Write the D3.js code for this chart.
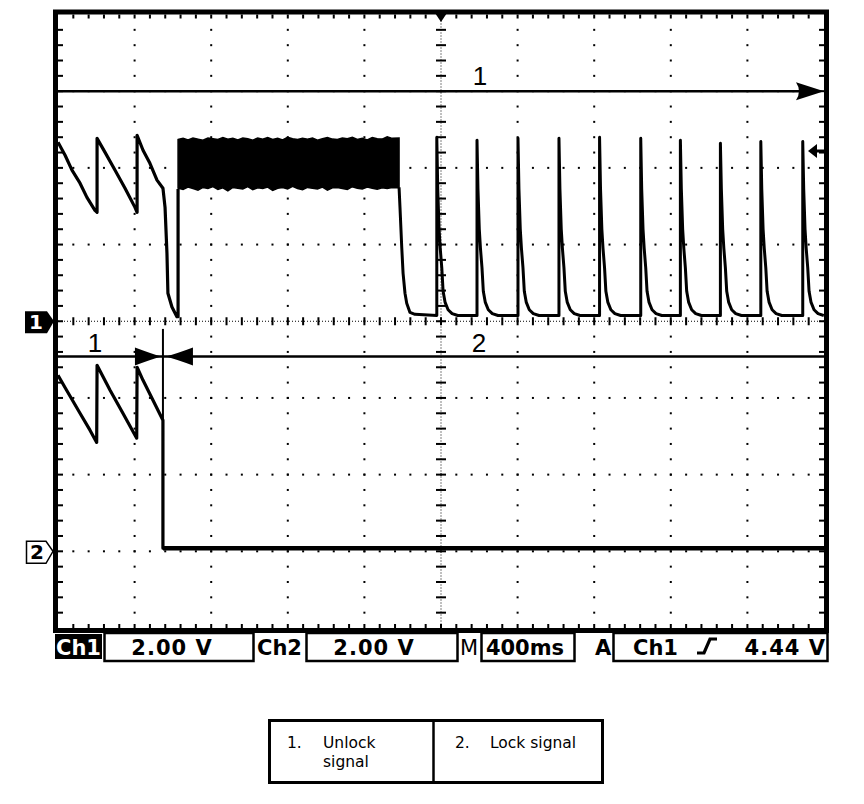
<!DOCTYPE html>
<html>
<head>
<meta charset="utf-8">
<script src="https://cdn.jsdelivr.net/npm/d3@7/dist/d3.min.js"></script>
<style>
body { margin: 0; background: #fff; }
svg { display: block; }
</style>
</head>
<body>
<svg id="scope" width="864" height="804"></svg>
<script>
// Ch1 sawtooth before the burst (time ms, volts)
var ch1Teeth = [[-2000,4.67],[-1963,4.33],[-1927,3.94],[-1885,3.60],[-1849,3.23],[-1807,2.89],[-1796,2.84],
                [-1796,4.77],[-1755,4.41],[-1702,3.94],[-1650,3.47],[-1598,2.97],[-1587,2.84],
                [-1587,4.85],[-1556,4.46],[-1520,4.12],[-1483,3.68],[-1452,3.47],[-1441,2.97],[-1431,1.77],
                [-1426,0.73],[-1405,0.37],[-1379,0.12],[-1373,0.12],[-1373,3.45]];

// noisy burst: envelope
var noiseTime = [-1373,-1347,-1321,-1295,-1269,-1243,-1217,-1191,-1165,-1139,-1113,-1087,-1061,-1035,-1009,
                 -983,-957,-931,-905,-879,-853,-827,-801,-775,-749,-723,-697,-671,-645,-619,
                 -593,-567,-541,-515,-489,-463,-437,-411,-385,-359,-333,-307,-281,-255,-219];
var noiseTop = [4.74,4.77,4.73,4.78,4.75,4.72,4.78,4.76,4.74,4.79,4.75,4.77,4.73,4.78,4.76,
                4.72,4.78,4.75,4.79,4.74,4.77,4.73,4.80,4.76,4.74,4.77,4.75,4.78,4.72,4.76,
                4.79,4.75,4.74,4.78,4.76,4.80,4.74,4.77,4.73,4.79,4.76,4.75,4.81,4.77,4.78];
var noiseBottom = [3.47,3.44,3.50,3.46,3.42,3.49,3.46,3.51,3.44,3.48,3.40,3.49,3.47,3.45,3.51,
                   3.43,3.48,3.46,3.50,3.41,3.47,3.49,3.45,3.52,3.46,3.43,3.49,3.47,3.45,3.50,
                   3.42,3.48,3.49,3.46,3.44,3.51,3.47,3.45,3.50,3.47,3.44,3.48,3.46,3.49,3.48];

// fall after the burst
var ch1Fall = [[-219,3.49],[-214,2.95],[-205,1.93],[-198,1.25],[-188,0.73],[-179,0.47],[-162,0.23],[-136,0.18]];

// lock pulses
var pulseTimes = [-22,188,402,616,828,1043,1250,1459,1670,1889];
var pulsePeaks = [4.80,4.72,4.77,4.77,4.80,4.77,4.72,4.64,4.69,4.69];
var pulseDecay = [[5,3.45],[12,2.4],[18,1.9],[26,1.4],[33,0.78],[43,0.5],[59,0.3],[80,0.2],[110,0.15]];
var ch1Base = 0.15;

// Ch2 trace
var ch2Trace = [[-2000,4.59],[-1955,4.20],[-1885,3.60],[-1833,3.16],[-1798,2.84],
                [-1796,4.85],[-1728,4.20],[-1661,3.60],[-1589,2.95],
                [-1587,4.80],[-1556,4.46],[-1504,3.94],[-1452,3.42],[-1452,0.08],[2000,0.08]];

// scope settings
var ch1Pos = 0, ch2Pos = -3, voltsPerDiv = 2;
var trigLevel = 4.44;
var lockEdge = -1452;
var statusCh1 = "2.00 V", statusCh2 = "2.00 V", statusTime = "400ms", trigSource = "Ch1", trigText = "4.44 V";
var legendItems = [["1.", ["Unlock", "signal"]], ["2.", ["Lock signal"]]];

var X0 = 58, X1 = 824, Y0 = 14.5, Y1 = 628;
var svg = d3.select("#scope");
var x = d3.scaleLinear().domain([-2000, 2000]).range([X0, X1]);
var yDiv = d3.scaleLinear().domain([-4, 4]).range([Y1, Y0]);
var y1 = v => yDiv(v / voltsPerDiv + ch1Pos);
var y2 = v => yDiv(v / voltsPerDiv + ch2Pos);
var dx = (X1 - X0) / 50, dy = (Y1 - Y0) / 40;

svg.append("defs").append("clipPath").attr("id", "plot")
  .append("rect").attr("x", X0).attr("y", Y0).attr("width", X1 - X0).attr("height", Y1 - Y0);

// grid dots
var grid = svg.append("g").attr("fill", "#000");
[1,2,3,4,6,7,8,9].forEach(i => {
  var gx = X0 + i * 5 * dx;
  d3.range(1, 40).forEach(j => {
    grid.append("rect").attr("x", gx - 1).attr("y", Y0 + j * dy - 1).attr("width", 2).attr("height", 2);
  });
});
[1,2,3,5,6,7].forEach(k => {
  var gy = Y0 + k * 5 * dy;
  d3.range(1, 50).forEach(j => {
    grid.append("rect").attr("x", X0 + j * dx - 1).attr("y", gy - 1).attr("width", 2).attr("height", 2);
  });
});
// border ticks
d3.range(1, 50).forEach(j => {
  var tx = X0 + j * dx;
  grid.append("rect").attr("x", tx - 1).attr("y", Y0).attr("width", 2).attr("height", 4);
  grid.append("rect").attr("x", tx - 1).attr("y", Y1 - 4).attr("width", 2).attr("height", 4);
});
d3.range(1, 40).forEach(j => {
  var ty = Y0 + j * dy;
  grid.append("rect").attr("x", X0).attr("y", ty - 1).attr("width", 5).attr("height", 2);
  grid.append("rect").attr("x", X1 - 5).attr("y", ty - 1).attr("width", 5).attr("height", 2);
});
// centre lines
var cx = x(0), cy = yDiv(0);
svg.append("line").attr("x1", X0).attr("x2", X1).attr("y1", cy).attr("y2", cy)
  .attr("stroke", "#000").attr("stroke-width", 1).attr("stroke-dasharray", "1,2");
svg.append("line").attr("x1", cx).attr("x2", cx).attr("y1", Y0).attr("y2", Y1)
  .attr("stroke", "#000").attr("stroke-width", 1).attr("stroke-dasharray", "1,2");
d3.range(1, 50).forEach(j => {
  grid.append("rect").attr("x", X0 + j * dx - 1).attr("y", cy - 4).attr("width", 2).attr("height", 8);
});
d3.range(1, 40).forEach(j => {
  grid.append("rect").attr("x", cx - 5).attr("y", Y0 + j * dy - 1).attr("width", 10).attr("height", 2);
});

// traces
var traces = svg.append("g").attr("clip-path", "url(#plot)");
var line = d3.line().x(d => x(d[0]));

var ch1Tail = ch1Fall.slice();
pulseTimes.forEach((t, i) => {
  ch1Tail.push([t, ch1Base], [t, pulsePeaks[i]]);
  pulseDecay.forEach(p => ch1Tail.push([t + p[0], p[1]]));
});

traces.append("path").attr("d", line.y(d => y1(d[1]))(ch1Teeth))
  .attr("fill", "none").attr("stroke", "#000").attr("stroke-width", 3.2).attr("stroke-linejoin", "round");
traces.append("path").attr("d", line.y(d => y1(d[1]))(ch1Tail))
  .attr("fill", "none").attr("stroke", "#000").attr("stroke-width", 3).attr("stroke-linejoin", "round");
traces.append("path")
  .attr("d", d3.area().x((d, i) => x(noiseTime[i])).y0((d, i) => y1(noiseBottom[i])).y1((d, i) => y1(noiseTop[i]))(noiseTime))
  .attr("fill", "#000").attr("stroke", "#000").attr("stroke-width", 1.5);
traces.append("path").attr("d", line.y(d => y2(d[1]))(ch2Trace))
  .attr("fill", "none").attr("stroke", "#000").attr("stroke-width", 3.2).attr("stroke-linejoin", "round");
// thick noisy flat part of ch2
traces.append("line").attr("x1", x(lockEdge)).attr("x2", X1)
  .attr("y1", y2(0.08)).attr("y2", y2(0.08)).attr("stroke", "#000").attr("stroke-width", 4.5);

// annotation arrows
var ann = svg.append("g");
var ya = yDiv(3), yb = yDiv(-0.46), ex = x(lockEdge);
ann.append("line").attr("x1", X0).attr("x2", X1 - 20).attr("y1", ya).attr("y2", ya)
  .attr("stroke", "#000").attr("stroke-width", 2.5);
ann.append("path").attr("d", `M${X1},${ya} L${X1 - 28},${ya - 9} Q${X1 - 22},${ya} ${X1 - 28},${ya + 9} Z`).attr("fill", "#000");
ann.append("line").attr("x1", X0).attr("x2", X1).attr("y1", yb).attr("y2", yb)
  .attr("stroke", "#000").attr("stroke-width", 2.5);
ann.append("path").attr("d", `M${ex - 28},${yb - 9} Q${ex - 12},${yb - 3} ${ex - 2},${yb} Q${ex - 12},${yb + 3} ${ex - 28},${yb + 9} Z`).attr("fill", "#000");
ann.append("path").attr("d", `M${ex + 30},${yb - 9} Q${ex + 14},${yb - 3} ${ex + 3},${yb} Q${ex + 14},${yb + 3} ${ex + 30},${yb + 9} Z`).attr("fill", "#000");
ann.append("line").attr("x1", ex).attr("x2", ex).attr("y1", yDiv(-0.1)).attr("y2", y2(0.08))
  .attr("stroke", "#000").attr("stroke-width", 2);
var annFont = "'Liberation Sans', Arial, sans-serif";
ann.append("text").attr("x", 480).attr("y", 85).text("1");
ann.append("text").attr("x", 95).attr("y", 352).text("1");
ann.append("text").attr("x", 479).attr("y", 352).text("2");
ann.selectAll("text").attr("font-family", annFont).attr("font-size", 26).attr("text-anchor", "middle");

// frame
svg.append("rect").attr("x", 55.5).attr("y", 12).attr("width", 771).attr("height", 618.5)
  .attr("fill", "none").attr("stroke", "#000").attr("stroke-width", 5);

// trigger position (top) and level (right) markers
svg.append("path").attr("d", `M${cx - 6},13 L${cx + 6},13 L${cx},22 Z`).attr("fill", "#000");
var tl = y1(trigLevel);
svg.append("path").attr("d", `M${X1 - 16},${tl} L${X1 - 7},${tl - 7} L${X1 - 7},${tl + 7} Z`).attr("fill", "#000");
svg.append("line").attr("x1", X1 - 8).attr("x2", X1).attr("y1", tl).attr("y2", tl).attr("stroke", "#000").attr("stroke-width", 3);

// channel ground markers
var g1 = y1(0), g2 = y2(0);
svg.append("path").attr("d", `M25,${g1 - 10} L47,${g1 - 10} L54,${g1} L47,${g1 + 12} L25,${g1 + 12} Z`).attr("fill", "#000");
svg.append("text").attr("x", 36).attr("y", g1 + 8).attr("fill", "#fff").text("1")
  .attr("font-family", "'DejaVu Sans', sans-serif").attr("font-weight", "bold").attr("font-size", 20).attr("text-anchor", "middle");
svg.append("path").attr("d", `M26.5,${g2 - 10} L46,${g2 - 10} L53,${g2} L46,${g2 + 12} L26.5,${g2 + 12} Z`)
  .attr("fill", "#fff").attr("stroke", "#000").attr("stroke-width", 1.5);
svg.append("text").attr("x", 37).attr("y", g2 + 8).attr("fill", "#000").text("2")
  .attr("font-family", "'DejaVu Sans', sans-serif").attr("font-weight", "bold").attr("font-size", 20).attr("text-anchor", "middle");

// status bar
var sb = svg.append("g").attr("font-family", "'DejaVu Sans', Verdana, sans-serif")
  .attr("font-weight", "bold").attr("font-size", 21);
var base = 655;
sb.append("rect").attr("x", 55).attr("y", 634).attr("width", 47).attr("height", 25).attr("fill", "#000");
sb.append("text").attr("x", 78.5).attr("y", base).attr("fill", "#fff").attr("text-anchor", "middle").text("Ch1");
[[104.5, 149], [306.5, 151], [481.5, 93], [613.5, 214]].forEach(b => {
  sb.append("rect").attr("x", b[0]).attr("y", 633).attr("width", b[1]).attr("height", 28)
    .attr("fill", "none").attr("stroke", "#000").attr("stroke-width", 2.5);
});
sb.append("text").attr("x", 172).attr("y", base).attr("text-anchor", "middle").attr("letter-spacing", 1).text(statusCh1);
sb.append("text").attr("x", 257).attr("y", base).text("Ch2");
sb.append("text").attr("x", 374).attr("y", base).attr("text-anchor", "middle").attr("letter-spacing", 1).text(statusCh2);
sb.append("text").attr("x", 460).attr("y", base).attr("font-weight", "normal").text("M");
sb.append("text").attr("x", 525).attr("y", base).attr("text-anchor", "middle").text(statusTime);
sb.append("text").attr("x", 595).attr("y", base).text("A");
sb.append("text").attr("x", 633).attr("y", base).text(trigSource);
sb.append("path").attr("d", "M697,653 L704,653 L710,639 L717,639").attr("fill", "none")
  .attr("stroke", "#000").attr("stroke-width", 3.2);
sb.append("text").attr("x", 826).attr("y", base).attr("text-anchor", "end").attr("letter-spacing", 1).text(trigText);

// legend table
var lg = svg.append("g").attr("font-family", "'DejaVu Sans', Verdana, sans-serif").attr("font-size", 15.5);
lg.append("rect").attr("x", 269.5).attr("y", 720.5).attr("width", 333).attr("height", 62)
  .attr("fill", "none").attr("stroke", "#000").attr("stroke-width", 3);
lg.append("line").attr("x1", 433.5).attr("x2", 433.5).attr("y1", 720).attr("y2", 783)
  .attr("stroke", "#000").attr("stroke-width", 2.5);
var cols = [[287, 323], [455, 490]];
legendItems.forEach((item, i) => {
  lg.append("text").attr("x", cols[i][0]).attr("y", 748).text(item[0]);
  item[1].forEach((ln, k) => {
    lg.append("text").attr("x", cols[i][1]).attr("y", 748 + k * 19).text(ln);
  });
});
</script>
</body>
</html>
